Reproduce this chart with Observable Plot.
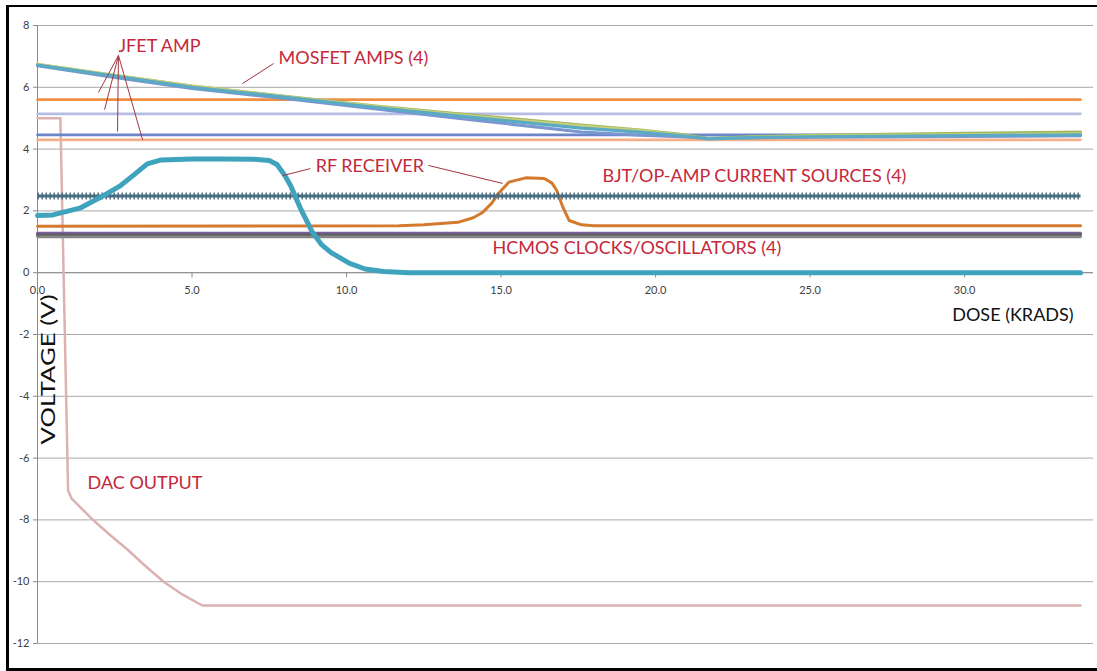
<!DOCTYPE html>
<html><head><meta charset="utf-8">
<script src="https://cdn.jsdelivr.net/npm/d3@7"></script>
<script src="https://cdn.jsdelivr.net/npm/@observablehq/plot@0.6"></script>
<style>
html,body{margin:0;padding:0;background:#fff;}
#wrap{position:relative;width:1097px;height:671px;overflow:hidden;}
#border{position:absolute;left:6px;top:5px;width:1091px;height:666px;box-sizing:border-box;border-top:2.5px solid #000;border-left:3px solid #000;border-bottom:3px solid #000;pointer-events:none;}
</style></head><body><div id="wrap"><div id="chart"></div><div id="border"></div></div>
<script>
// ---- data (dose in krads, voltage in V) ----
const xTicks = [0, 5, 10, 15, 20, 25, 30];
const yTicks = [-12, -10, -8, -6, -4, -2, 0, 2, 4, 6, 8];
const doseRange = [0, 33.75];

// JFET amps: flat levels
const jfetNames = ["JFET orange", "JFET lavender", "JFET blue", "JFET peach"];
const jfetLevels = [5.6, 5.14, 4.46, 4.3];

// MOSFET amps (4)
const mosfetGreen = [[0,6.74],[2.5,6.38],[5,6.04],[7.85,5.73],[11.1,5.38],[14.3,5.08],[17.6,4.78],[19.5,4.62],[20.8,4.48],[21.7,4.34],[23,4.4],[25,4.45],[30,4.51],[33.75,4.55]];
const mosfetYellow = [[0,6.75],[2.5,6.39],[5,6.04],[7.85,5.72],[11.1,5.36],[14.3,5.05],[17.6,4.75],[19.5,4.6],[20.8,4.46],[21.7,4.33],[23,4.38],[25,4.42],[30,4.47],[33.75,4.5]];
const mosfetTeal = [[0,6.72],[2.5,6.36],[5,6.0],[7.85,5.7],[11.1,5.33],[14.3,5.0],[17.6,4.68],[19.5,4.55],[20.8,4.44],[21.7,4.33],[23,4.37],[25,4.4],[30,4.44],[33.75,4.46]];
const mosfetBlue = [[0,6.7],[2.5,6.32],[5,5.96],[7.85,5.65],[11.1,5.28],[14.3,4.92],[17.6,4.55],[19.5,4.45],[20.8,4.4],[21.7,4.35],[23,4.36],[25,4.38],[30,4.41],[33.75,4.43]];

// RF receiver
const rfTeal = [[0,1.85],[0.5,1.87],[0.85,1.96],[1.4,2.1],[2.04,2.44],[2.69,2.82],[3.1,3.15],[3.55,3.52],[4.0,3.65],[5,3.68],[6,3.68],[7,3.67],[7.5,3.63],[7.75,3.5],[8.0,3.15],[8.2,2.8],[8.5,2.1],[8.9,1.3],[9.2,0.9],[9.5,0.65],[10.1,0.3],[10.6,0.12],[11.2,0.04],[12,0.0],[33.75,0.0]];
const rfOrange = [[0,1.5],[11.7,1.52],[12.5,1.55],[13.6,1.63],[14.1,1.78],[14.4,1.95],[14.7,2.25],[14.9,2.55],[15.25,2.93],[15.8,3.07],[16.4,3.05],[16.65,2.9],[16.8,2.66],[17.0,2.12],[17.2,1.69],[17.6,1.55],[18,1.52],[33.75,1.52]];

// BJT / op-amp current sources (4)
const bjtLevel = 2.48;

// HCMOS clocks / oscillators (4)
const hcmosNames = ["HCMOS purple", "HCMOS slate", "HCMOS dark", "HCMOS gray"];
const hcmosLevels = [1.28, 1.24, 1.2, 1.16];

// DAC output
const dac = [[0,5.0],[0.74,5.0],[0.99,-7.05],[1.1,-7.3],[1.72,-7.93],[2.3,-8.45],[2.9,-8.95],[3.5,-9.5],[4.08,-10.0],[4.7,-10.42],[5.33,-10.77],[33.75,-10.77]];

// annotation text
const labelText = ["JFET AMP", "MOSFET AMPS (4)", "RF RECEIVER", "BJT/OP-AMP CURRENT SOURCES (4)", "HCMOS CLOCKS/OSCILLATORS (4)", "DAC OUTPUT"];
const labelDose = [2.62, 7.8, 9.0, 18.28, 14.72, 1.62];
const labelVolt = [7.33, 6.95, 3.46, 3.12, 0.79, -6.82];

// annotation leader lines [dose1, volt1, dose2, volt2]
const leaders = [
  [2.62, 7.03, 1.97, 5.83],
  [2.62, 7.03, 2.17, 5.28],
  [2.62, 7.03, 2.59, 4.57],
  [2.62, 7.03, 3.40, 4.30],
  [7.64, 6.77, 6.63, 6.12],
  [8.83, 3.37, 7.93, 3.14],
  [12.65, 3.47, 15.05, 2.89]
];

const xTitle = {dose: 29.6, volt: -1.38, text: "DOSE (KRADS)"};
const yTitle = {dose: 0.37, volt: -3.13, text: "VOLTAGE (V)"};

// ---- build tables ----
const flat = (level) => doseRange.map(d => ({x: d, y: level}));
const pts = (arr) => arr.map(([x, y]) => ({x, y}));
const jfetColors = ["#ee8f44", "#b7bce2", "#6a86c8", "#f5b08a"];
const hcmosColors = ["#7d5d9f", "#64607a", "#5c5c5c", "#858585"];
const labels = labelText.map((t, i) => ({text: t, x: labelDose[i], y: labelVolt[i]}));
const leaderRows = leaders.map(([x1, y1, x2, y2]) => ({x1, y1, x2, y2}));

const lineMarks = [];
lineMarks.push(Plot.line(pts(dac), {x: "x", y: "y", stroke: "#dcb1b1", strokeWidth: 2.5}));
jfetLevels.forEach((v, i) => lineMarks.push(Plot.line(flat(v), {x: "x", y: "y", stroke: jfetColors[i], strokeWidth: 2.6})));
lineMarks.push(Plot.line(pts(mosfetBlue), {x: "x", y: "y", stroke: "#7a96d2", strokeWidth: 3}));
lineMarks.push(Plot.line(pts(mosfetGreen), {x: "x", y: "y", stroke: "#9db85f", strokeWidth: 3}));
lineMarks.push(Plot.line(pts(mosfetYellow), {x: "x", y: "y", stroke: "#c9cf77", strokeWidth: 3}));
lineMarks.push(Plot.line(pts(mosfetTeal), {x: "x", y: "y", stroke: "#5aaac4", strokeWidth: 3.2}));
lineMarks.push(Plot.line(pts(rfOrange), {x: "x", y: "y", stroke: "#d37a2e", strokeWidth: 3}));
hcmosLevels.forEach((v, i) => lineMarks.push(Plot.line(flat(v), {x: "x", y: "y", stroke: hcmosColors[i], strokeWidth: 2.6})));
lineMarks.push(Plot.line(flat(bjtLevel), {x: "x", y: "y", stroke: "#3f7285", strokeWidth: 3, strokeLinecap: "butt"}));
lineMarks.push(Plot.line(flat(bjtLevel), {x: "x", y: "y", stroke: "#4a6478", strokeWidth: 7, strokeLinecap: "butt", strokeDasharray: "1.4 2.6"}));
lineMarks.push(Plot.line(pts(rfTeal), {x: "x", y: "y", stroke: "#3fa3bd", strokeWidth: 5, strokeLinejoin: "round"}));

const chart = Plot.plot({
  width: 1097, height: 671,
  marginLeft: 37, marginRight: 4, marginTop: 25, marginBottom: 28,
  x: {domain: [0, 34.17], axis: null},
  y: {domain: [-12, 8], label: null},
  style: {fontFamily: "Lato, sans-serif", background: "transparent", overflow: "visible"},
  marks: [
    Plot.ruleY(yTicks, {stroke: "#a8a8a8", strokeWidth: 1}),
    Plot.ruleX([0], {stroke: "#8c8c8c"}),
    Plot.axisY(yTicks, {tickSize: 4, tickPadding: 4, tickFormat: d => String(d), fontSize: 11, fill: "#404040", stroke: "#8c8c8c", label: null}),
    Plot.ruleY([0], {stroke: "#8c8c8c"}),
    Plot.ruleX(xTicks, {x: d => d, y1: 0, y2: -0.17, stroke: "#8c8c8c"}),
    Plot.text(xTicks, {x: d => d, y: 0, dy: 18, text: d => d3.format(".1f")(d), fontSize: 11, fill: "#404040"}),
    ...lineMarks,
    Plot.link(leaderRows, {x1: "x1", y1: "y1", x2: "x2", y2: "y2", stroke: "#a3353f", strokeWidth: 1}),
    Plot.text(labels, {x: "x", y: "y", text: "text", textAnchor: "start", fontSize: 18, fill: "#c4283a"}),
    Plot.text([xTitle], {x: "dose", y: "volt", text: "text", textAnchor: "start", fontSize: 18, fill: "#111"}),
    Plot.text([yTitle], {x: "dose", y: "volt", text: "text", rotate: -90, fontSize: 20, fill: "#111"})
  ]
});
// stretch the vertical axis title along its length, as in the reference
d3.select(chart).selectAll("text")
  .filter(function() { return this.textContent === yTitle.text; })
  .attr("textLength", 150).attr("lengthAdjust", "spacingAndGlyphs");
document.getElementById("chart").appendChild(chart);
</script></body></html>
